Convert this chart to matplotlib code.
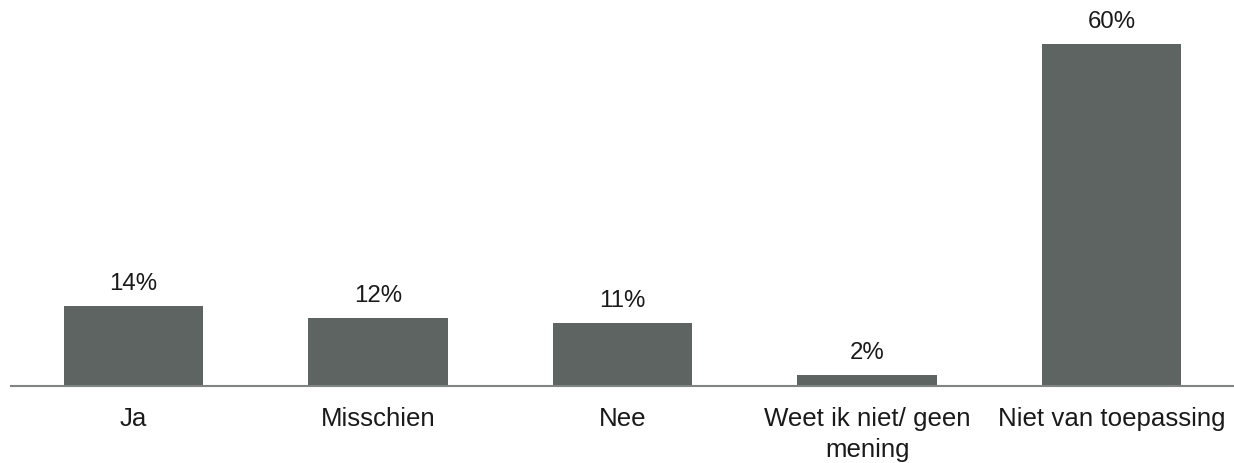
import matplotlib.pyplot as plt

plt.rcParams['font.family'] = ['Liberation Sans', 'DejaVu Sans']

categories = ['Ja', 'Misschien', 'Nee', 'Weet ik niet/ geen\nmening', 'Niet van toepassing']
values = [14, 12, 11, 2, 60]
value_labels = ['14%', '12%', '11%', '2%', '60%']

bar_color = '#5d6462'

fig = plt.figure(figsize=(12.34, 4.63), dpi=100)
ax = fig.add_axes([11 / 1234, 77 / 463, 1223 / 1234, 370 / 463])

x = list(range(len(categories)))
bars = ax.bar(x, values, width=0.57, color=bar_color)

for rect, lab in zip(bars, value_labels):
    ax.annotate(lab, (rect.get_x() + rect.get_width() / 2, rect.get_height()),
                xytext=(0, 8), textcoords='offset points',
                ha='center', va='bottom', fontsize=17.3, color='#1a1a1a')

ax.set_xlim(-0.5, len(categories) - 0.5)
ax.set_ylim(0, 65)
ax.set_xticks(x)
ax.set_xticklabels(categories, fontsize=18.6, color='#1a1a1a', linespacing=1.38)
ax.tick_params(axis='x', length=0, pad=15)
ax.set_yticks([])

for side in ['top', 'right', 'left']:
    ax.spines[side].set_visible(False)
ax.spines['bottom'].set_color('#7f8583')
ax.spines['bottom'].set_linewidth(1.5)

fig.savefig('out.png', dpi=100)
